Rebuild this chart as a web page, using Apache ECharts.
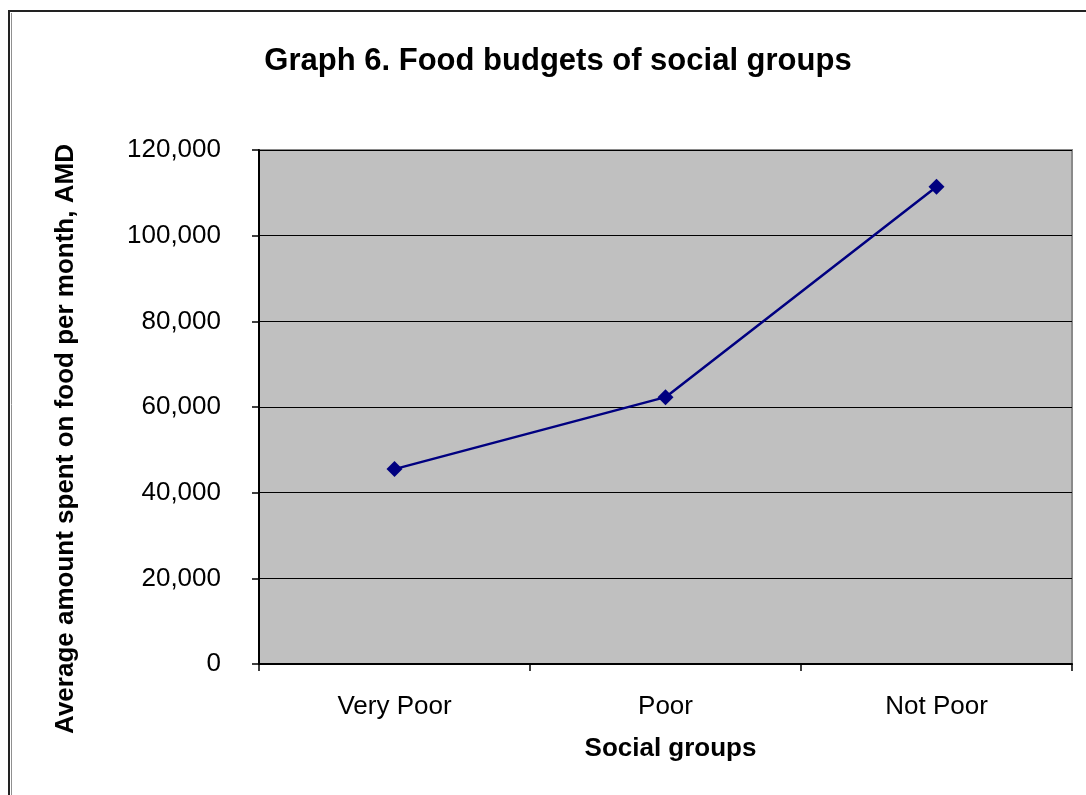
<!DOCTYPE html>
<html>
<head>
<meta charset="utf-8">
<script src="https://cdn.jsdelivr.net/npm/echarts@6/dist/echarts.min.js"></script>
<style>
  html, body { margin: 0; padding: 0; background: #ffffff; }
  #chart { width: 1086px; height: 795px; }
</style>
</head>
<body>
<div id="chart"></div>
<script>
// Food budgets by social group (AMD per month)
const categories = ['Very Poor', 'Poor', 'Not Poor'];
const foodSpending = [45500, 62300, 111400];
const yTicks = { min: 0, max: 120000, interval: 20000 };
const yAxisTitle = 'Average amount spent on food per month, AMD';

const FONT = '"Liberation Sans", Arial, sans-serif';

const chart = echarts.init(document.getElementById('chart'), null, { renderer: 'canvas' });

chart.setOption({
  backgroundColor: '#ffffff',
  animation: false,
  title: {
    text: 'Graph 6. Food budgets of social groups',
    left: 553,
    top: 41,
    textAlign: 'center',
    textStyle: { fontFamily: FONT, fontSize: 31, fontWeight: 'bold', color: '#000000' }
  },
  graphic: [
    // outer chart frame
    { type: 'rect', shape: { x: 9, y: 11, width: 1100, height: 820 },
      style: { fill: 'none', stroke: '#222222', lineWidth: 2 }, silent: true },
    { type: 'line', shape: { x1: 11.5, y1: 13, x2: 11.5, y2: 800 },
      style: { stroke: '#909090', lineWidth: 1 }, silent: true },
    // vertical axis title
    { type: 'text', x: 66, y: 439, rotation: Math.PI / 2, silent: true,
      style: { text: yAxisTitle, fontFamily: FONT, fontSize: 26, fontWeight: 'bold',
               fill: '#000000', align: 'center', verticalAlign: 'middle' } }
  ],
  grid: {
    left: 259, top: 150, width: 813, height: 514,
    show: true, backgroundColor: '#c0c0c0', borderColor: '#8a8a8a', borderWidth: 2
  },
  xAxis: {
    type: 'category',
    data: categories,
    boundaryGap: true,
    name: 'Social groups',
    nameLocation: 'middle',
    nameGap: 72,
    nameTextStyle: { fontFamily: FONT, fontSize: 26, fontWeight: 'bold', color: '#000000',
                     padding: [0, 0, 0, 10] },
    axisLine: { lineStyle: { color: '#000000', width: 2 } },
    axisTick: { show: true, length: 7, inside: false, lineStyle: { color: '#000000', width: 1.5 } },
    axisLabel: { margin: 30, fontFamily: FONT, fontSize: 26, color: '#000000' },
    splitLine: { show: false }
  },
  yAxis: {
    type: 'value',
    min: yTicks.min,
    max: yTicks.max,
    interval: yTicks.interval,
    axisLine: { show: true, lineStyle: { color: '#000000', width: 2 } },
    axisTick: { show: true, length: 7, lineStyle: { color: '#000000', width: 1.5 } },
    axisLabel: {
      margin: 38, fontFamily: FONT, fontSize: 26, color: '#000000',
      formatter: v => v.toLocaleString('en-US')
    },
    splitLine: { show: true, lineStyle: { color: '#000000', width: 1.2 } }
  },
  series: [{
    type: 'line',
    data: foodSpending,
    symbol: 'diamond',
    symbolSize: 16,
    showAllSymbol: true,
    lineStyle: { color: '#000080', width: 2.5 },
    itemStyle: { color: '#000080' }
  }]
});
</script>
</body>
</html>
